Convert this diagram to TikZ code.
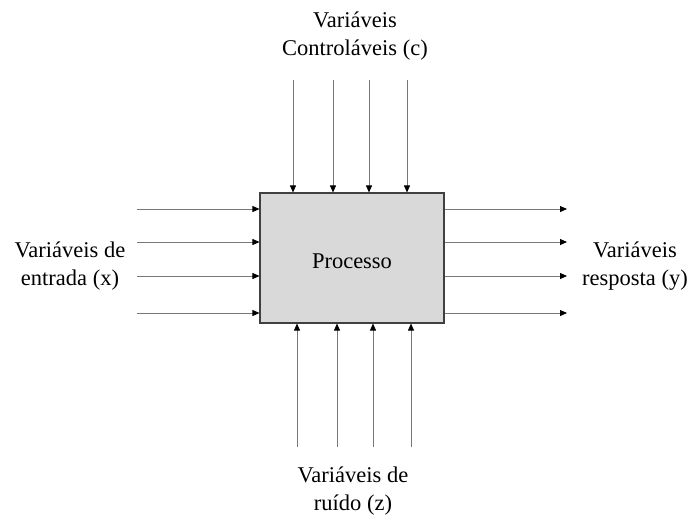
\documentclass[tikz,border=0pt]{standalone}
\usepackage{fontspec}
\setmainfont{Liberation Serif}
\usetikzlibrary{arrows.meta}
\definecolor{boxline}{RGB}{64,64,64}
\definecolor{boxfill}{RGB}{217,217,217}
\definecolor{flowline}{RGB}{120,120,120}
\tikzset{
  lbl/.style={align=center, inner sep=0pt, font=\fontsize{22.5}{28}\selectfont},
  proc/.style={draw=boxline, line width=1.1pt, fill=boxfill,
    minimum width=184pt, minimum height=130pt, inner sep=0pt,
    text height=20pt, text depth=0pt, font=\fontsize{22.5}{28}\selectfont},
  flow/.style={draw=flowline, line width=0.8pt,
    -{Triangle[length=7pt,width=6pt,color=black,fill=black]}}
}
\begin{document}
\begin{tikzpicture}[x=1pt,y=-1pt]
\useasboundingbox (0,0) rectangle (688,515);
\node[proc] (p) at (352,258) {Processo};
% labels
\node[lbl] (lc) at (355,36) {Variáveis\\Controláveis (c)};
\node[lbl] (lx) at (70,266) {Variáveis de\\entrada (x)};
\node[lbl] (ly) at (635,266) {Variáveis\\resposta (y)};
\node[lbl] (lz) at (353,491) {Variáveis de\\ruído (z)};
% top inputs
\foreach \i/\x in {1/293,2/333,3/369,4/407} {
  \coordinate (c\i) at (\x,80);
  \draw[flow] (c\i) -- (c\i |- p.north);
}
% bottom inputs
\foreach \i/\x in {1/297,2/337,3/373,4/411} {
  \coordinate (z\i) at (\x,447);
  \draw[flow] (z\i) -- (z\i |- p.south);
}
% left inputs
\foreach \i/\y in {1/209,2/242,3/276,4/313} {
  \coordinate (x\i) at (137,\y);
  \draw[flow] (x\i) -- (x\i -| p.west);
}
% right outputs
\foreach \i/\y in {1/209,2/242,3/276,4/313} {
  \coordinate (y\i) at (567,\y);
  \draw[flow] (y\i -| p.east) -- (y\i);
}
\end{tikzpicture}
\end{document}
